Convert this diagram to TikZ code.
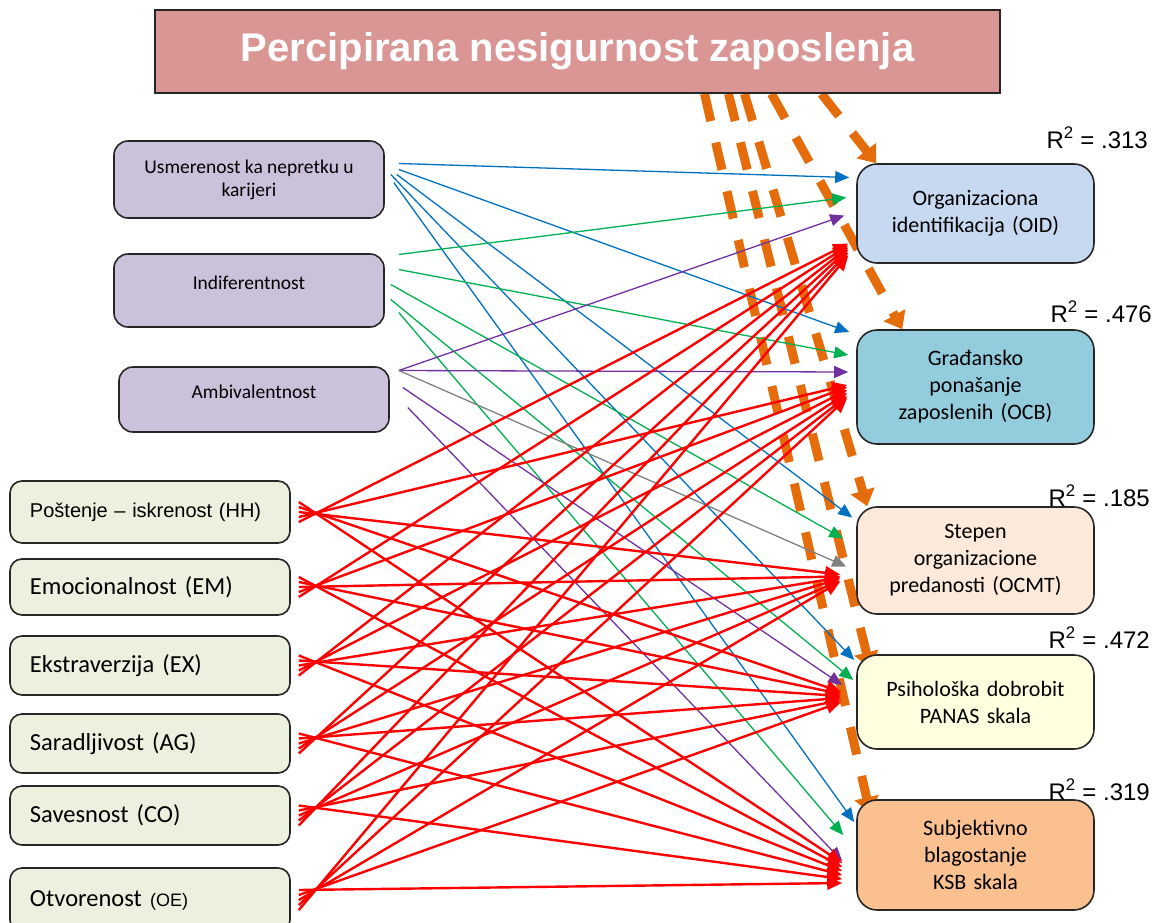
\documentclass[tikz,border=0pt]{standalone}
\usepackage{fontspec}
\setmainfont{Carlito}
\newfontfamily\arialfont{Liberation Sans}
\usetikzlibrary{arrows.meta}
\usetikzlibrary{backgrounds}

\definecolor{titlefill}{HTML}{D99694}
\definecolor{attfill}{HTML}{CCC1DA}
\definecolor{traitfill}{HTML}{EBF1DE}
\definecolor{oidfill}{HTML}{C6D9F1}
\definecolor{ocbfill}{HTML}{93CDDD}
\definecolor{ocmtfill}{HTML}{FDE9D9}
\definecolor{panasfill}{HTML}{FFFFE0}
\definecolor{ksbfill}{HTML}{FAC090}
\definecolor{jiorange}{HTML}{E46C0A}
\definecolor{usmblue}{HTML}{0070C0}
\definecolor{indgreen}{HTML}{00B050}
\definecolor{ambpurple}{HTML}{7030A0}

\tikzset{
  box/.style={draw=black!85, line width=1.6pt},
  attbox/.style={box, fill=attfill, rounded corners=14pt, minimum width=270pt, align=center, font=\fontsize{19.5}{23}\selectfont},
  traitbox/.style={box, fill=traitfill, rounded corners=12pt, text width=240pt, inner xsep=20pt, align=left, font=\fontsize{24.5}{29}\selectfont},
  outbox/.style={box, rounded corners=20pt, text width=221pt, inner xsep=8pt, align=center, font=\fontsize{22}{27}\selectfont},
  rlabel/.style={font=\arialfont\fontsize{24}{28}\selectfont, anchor=base east, inner sep=0pt},
  thinarr/.style={line width=1.3pt, -{Triangle[length=14pt,width=12pt]}},
  redarr/.style={red, line width=2.4pt, -{Triangle[length=15pt,width=13pt]}},
  insec/.style={draw=jiorange, line width=9pt, dash pattern=on 28pt off 22pt, -{Triangle[length=16pt,width=24pt]}}
}

\begin{document}
\begin{tikzpicture}[x=1pt,y=-1pt]

            \useasboundingbox (0,0) rectangle (1163,922);

            \path   (577.5,51.5) node (title) [box, fill=titlefill, minimum width=845pt, minimum height=83pt, text=white, font=\arialfont\bfseries\fontsize{40}{48}\selectfont] {Percipirana nesigurnost zaposlenja}

                    (249,179.5) node (usm) [attbox, minimum height=77pt] {Usmerenost ka nepretku u\\karijeri}
                    (249,290.5) node (ind) [attbox, minimum height=73pt, text depth=16pt] {Indiferentnost}
                    (254,399.5) node (amb) [attbox, minimum height=65pt, text depth=16pt] {Ambivalentnost}

                    (150,512) node (hh) [traitbox, minimum height=62pt, font=\arialfont\fontsize{20}{24}\selectfont] {Poštenje – iskrenost (HH)}
                    (150,587) node (em) [traitbox, minimum height=56pt] {Emocionalnost (EM)}
                    (150,665.5) node (ex) [traitbox, minimum height=59pt] {Ekstraverzija (EX)}
                    (150,743.5) node (ag) [traitbox, minimum height=59pt] {Saradljivost (AG)}
                    (150,815.5) node (co) [traitbox, minimum height=59pt] {Savesnost (CO)}
                    (150,900) node (oe) [traitbox, minimum height=64pt] {Otvorenost {\arialfont\fontsize{18}{22}\selectfont(OE)}}

                    (975.5,213.5) node (oid) [outbox, fill=oidfill, minimum height=99pt] {Organizaciona\\identifikacija (OID)}
                    (975.5,387) node (ocb) [outbox, fill=ocbfill, minimum height=114pt] {Građansko\\ponašanje\\zaposlenih (OCB)}
                    (975.5,560.5) node (ocmt) [outbox, fill=ocmtfill, minimum height=107pt] {Stepen\\organizacione\\predanosti (OCMT)}
                    (975.5,702) node (panas) [outbox, fill=panasfill, minimum height=94pt] {Psihološka dobrobit\\PANAS skala}
                    (975.5,855) node (ksb) [outbox, fill=ksbfill, minimum height=110pt] {Subjektivno\\blagostanje\\KSB skala};

            \node (r1) [rlabel] at (1148,148) {R\textsuperscript{2} = .313};
            \node (r2) [rlabel] at (1152,322) {R\textsuperscript{2} = .476};
            \node (r3) [rlabel] at (1150,506) {R\textsuperscript{2} = .185};
            \node (r4) [rlabel] at (1150,648) {R\textsuperscript{2} = .472};
            \node (r5) [rlabel] at (1150,800) {R\textsuperscript{2} = .319};

            \begin{pgfonlayer}{background}

            % job insecurity
            \draw[insec] ([xshift=244pt]title.south) -- ([xshift=20pt]oid.north west);
            \draw[insec] ([xshift=194pt]title.south) -- ([xshift=46pt]ocb.north west);
            \draw[insec] ([xshift=167pt]title.south) -- ([xshift=11pt]ocmt.north west);
            \draw[insec] ([xshift=151pt]title.south) -- ([xshift=14pt,yshift=-14pt]panas.north west);
            \draw[insec] ([xshift=127pt]title.south) -- ([xshift=14pt,yshift=-14pt]ksb.north west);

            % usmerenost
            \draw[thinarr,usmblue] ([xshift=14pt,yshift=16pt]usm.east) -- ([xshift=-7pt,yshift=36pt]oid.west);
            \draw[thinarr,usmblue] ([xshift=14pt,yshift=10pt]usm.east) -- ([xshift=-7pt,yshift=55pt]ocb.west);
            \draw[thinarr,usmblue] ([xshift=12pt,yshift=5pt]usm.east) -- ([xshift=-4pt,yshift=43pt]ocmt.west);
            \draw[thinarr,usmblue] ([xshift=6pt,yshift=5pt]usm.east) -- ([xshift=-2pt,yshift=42pt]panas.west);
            \draw[thinarr,usmblue] ([xshift=9pt,yshift=-3pt]usm.east) -- ([xshift=-2pt,yshift=33pt]ksb.west);

            % indiferentnost
            \draw[thinarr,indgreen] ([xshift=14pt,yshift=36pt]ind.east) -- ([xshift=-10pt,yshift=16pt]oid.west);
            \draw[thinarr,indgreen] ([xshift=14pt,yshift=21pt]ind.east) -- ([xshift=-8pt,yshift=32pt]ocb.west);
            \draw[thinarr,indgreen] ([xshift=6pt,yshift=6pt]ind.east) -- ([xshift=-13pt,yshift=22pt]ocmt.west);
            \draw[thinarr,indgreen] ([xshift=6pt,yshift=-9pt]ind.east) -- ([xshift=-3pt,yshift=22pt]panas.west);
            \draw[thinarr,indgreen] ([xshift=14pt,yshift=-22pt]ind.east) -- ([xshift=-13pt,yshift=20pt]ksb.west);

            % ambivalentnost
            \draw[thinarr,ambpurple] ([xshift=9pt,yshift=29pt]amb.east) -- ([xshift=-12pt,yshift=-2pt]oid.west);
            \draw[thinarr,ambpurple] ([xshift=9pt,yshift=29pt]amb.east) -- ([xshift=-8pt,yshift=15pt]ocb.west);
            \draw[thinarr,gray] ([xshift=9pt,yshift=29pt]amb.east) -- ([xshift=-10pt,yshift=-6pt]ocmt.west);
            \draw[thinarr,ambpurple] ([xshift=13pt,yshift=12pt]amb.east) -- ([xshift=-14pt,yshift=17pt]panas.west);
            \draw[thinarr,ambpurple] ([xshift=18pt,yshift=-8pt]amb.east) -- ([xshift=-14pt,yshift=-6pt]ksb.west);

            % HEXACO
            \draw[redarr] ([xshift=8pt,yshift=-10pt]hh.east) -- ([xshift=-8pt,yshift=-30pt]oid.west);
            \draw[redarr] ([xshift=8pt,yshift=-5pt]hh.east) -- ([xshift=-9pt,yshift=2pt]ocb.west);
            \draw[redarr] ([xshift=8pt]hh.east) -- ([xshift=-16pt,yshift=-14pt]ocmt.west);
            \draw[redarr] ([xshift=8pt,yshift=5pt]hh.east) -- ([xshift=-15pt,yshift=10pt]panas.west);
            \draw[redarr] ([xshift=8pt,yshift=10pt]hh.east) -- ([xshift=-14pt,yshift=-8pt]ksb.west);

            \draw[redarr] ([xshift=8pt,yshift=-10pt]em.east) -- ([xshift=-8pt,yshift=-32pt]oid.west);
            \draw[redarr] ([xshift=8pt,yshift=-5pt]em.east) -- ([xshift=-9pt,yshift=0pt]ocb.west);
            \draw[redarr] ([xshift=8pt]em.east) -- ([xshift=-16pt,yshift=-16pt]ocmt.west);
            \draw[redarr] ([xshift=8pt,yshift=5pt]em.east) -- ([xshift=-15pt,yshift=8pt]panas.west);
            \draw[redarr] ([xshift=8pt,yshift=10pt]em.east) -- ([xshift=-14pt,yshift=-12pt]ksb.west);

            \draw[redarr] ([xshift=8pt,yshift=-10pt]ex.east) -- ([xshift=-8pt,yshift=-34pt]oid.west);
            \draw[redarr] ([xshift=8pt,yshift=-5pt]ex.east) -- ([xshift=-9pt,yshift=-3pt]ocb.west);
            \draw[redarr] ([xshift=8pt]ex.east) -- ([xshift=-16pt,yshift=-17pt]ocmt.west);
            \draw[redarr] ([xshift=8pt,yshift=5pt]ex.east) -- ([xshift=-15pt,yshift=6pt]panas.west);
            \draw[redarr] ([xshift=8pt,yshift=10pt]ex.east) -- ([xshift=-14pt,yshift=-16pt]ksb.west);

            \draw[redarr] ([xshift=8pt,yshift=-10pt]ag.east) -- ([xshift=-8pt,yshift=-36pt]oid.west);
            \draw[redarr] ([xshift=8pt,yshift=-5pt]ag.east) -- ([xshift=-9pt,yshift=-6pt]ocb.west);
            \draw[redarr] ([xshift=8pt]ag.east) -- ([xshift=-16pt,yshift=-18pt]ocmt.west);
            \draw[redarr] ([xshift=8pt,yshift=5pt]ag.east) -- ([xshift=-15pt,yshift=4pt]panas.west);
            \draw[redarr] ([xshift=8pt,yshift=10pt]ag.east) -- ([xshift=-14pt,yshift=-20pt]ksb.west);

            \draw[redarr] ([xshift=8pt,yshift=-10pt]co.east) -- ([xshift=-8pt,yshift=-39pt]oid.west);
            \draw[redarr] ([xshift=8pt,yshift=-5pt]co.east) -- ([xshift=-9pt,yshift=-9pt]ocb.west);
            \draw[redarr] ([xshift=8pt]co.east) -- ([xshift=-16pt,yshift=-20pt]ocmt.west);
            \draw[redarr] ([xshift=8pt,yshift=5pt]co.east) -- ([xshift=-15pt,yshift=2pt]panas.west);
            \draw[redarr] ([xshift=8pt,yshift=10pt]co.east) -- ([xshift=-14pt,yshift=-24pt]ksb.west);

            \draw[redarr] ([xshift=8pt,yshift=-10pt]oe.east) -- ([xshift=-8pt,yshift=-42pt]oid.west);
            \draw[redarr] ([xshift=8pt,yshift=-5pt]oe.east) -- ([xshift=-9pt,yshift=-11pt]ocb.west);
            \draw[redarr] ([xshift=8pt]oe.east) -- ([xshift=-16pt,yshift=-21pt]ocmt.west);
            \draw[redarr] ([xshift=8pt,yshift=5pt]oe.east) -- ([xshift=-15pt,yshift=0pt]panas.west);
            \draw[redarr] ([xshift=8pt,yshift=10pt]oe.east) -- ([xshift=-14pt,yshift=-28pt]ksb.west);

            \end{pgfonlayer}
        \end{tikzpicture}
\end{document}
